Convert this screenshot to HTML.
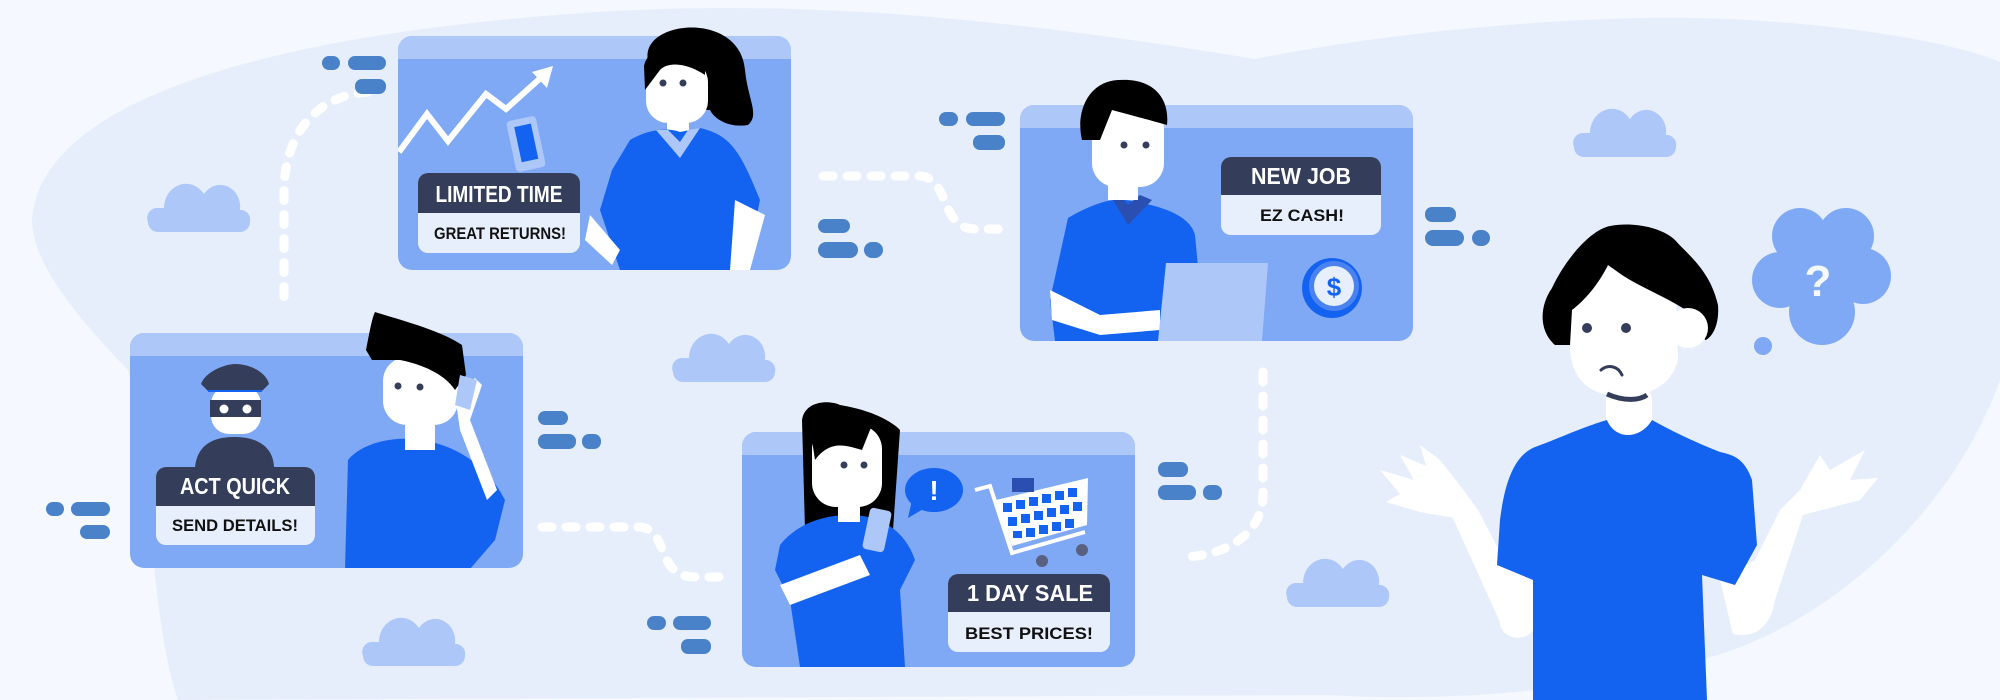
<!DOCTYPE html>
<html><head><meta charset="utf-8"><style>
html,body{margin:0;padding:0;background:#f5f8fe;}
svg{display:block}
text{font-family:"Liberation Sans",sans-serif;font-weight:bold}
</style></head><body>
<svg width="2000" height="700" viewBox="0 0 2000 700" xmlns="http://www.w3.org/2000/svg">
<defs>
<g id="cloud"><path d="M8,52 a10,10 0 0 1 10,-14 h6 a22,24 0 0 1 40,-14 a20,22 0 0 1 36,16 v0 h2 a10,10 0 0 1 8,12 v0 a10,10 0 0 1 -10,10 h-82 a10,10 0 0 1 -10,-10z" fill="#adc8f8"/></g>
</defs>
<rect width="2000" height="700" fill="#f5f8fe"/>
<path d="M32,219 C40,120 200,50 500,20 C700,0 900,0 1255,59 C1400,30 1550,20 1640,18 C1800,15 1950,40 2000,62 L2000,380 C1950,520 1820,630 1700,660 C1550,700 1400,700 1330,695 L178,700 C150,620 150,450 128,370 C70,310 32,260 32,219Z" fill="#e7eefb"/>
<use href="#cloud" transform="translate(140,170)"/>
<use href="#cloud" transform="translate(665,320)"/>
<use href="#cloud" transform="translate(355,604)"/>
<use href="#cloud" transform="translate(1566,95)"/>
<use href="#cloud" transform="translate(1279,545)"/>
<g fill="none" stroke="#fff" stroke-width="9" stroke-linecap="round" stroke-dasharray="10 14">
<path d="M368,92 C320,95 285,130 284,190 L284,306"/>
<path d="M823,176 L920,176 C950,178 940,229 975,229 L1000,229"/>
<path d="M542,527 L640,527 C670,530 655,577 695,577 L720,577"/>
<path d="M1263,372 L1263,495 C1263,530 1230,557 1180,557"/>
</g>
<g fill="#4a82c9">
<rect x="322" y="56" width="18" height="14" rx="7"/><rect x="348" y="56" width="38" height="14" rx="7"/><rect x="355" y="79" width="31" height="15" rx="7"/>
<rect x="818" y="219" width="32" height="14" rx="7"/><rect x="818" y="242" width="40" height="16" rx="8"/><rect x="864" y="242" width="19" height="16" rx="8"/>
<rect x="939" y="112" width="19" height="14" rx="7"/><rect x="966" y="112" width="39" height="14" rx="7"/><rect x="973" y="135" width="32" height="15" rx="7"/>
<rect x="538" y="411" width="30" height="14" rx="7"/><rect x="538" y="434" width="38" height="15" rx="7"/><rect x="582" y="434" width="19" height="15" rx="7"/>
<rect x="46" y="502" width="18" height="14" rx="7"/><rect x="71" y="502" width="39" height="14" rx="7"/><rect x="80" y="525" width="30" height="14" rx="7"/>
<rect x="647" y="616" width="19" height="14" rx="7"/><rect x="673" y="616" width="38" height="14" rx="7"/><rect x="681" y="639" width="30" height="15" rx="7"/>
<rect x="1425" y="207" width="31" height="15" rx="7"/><rect x="1425" y="230" width="39" height="16" rx="8"/><rect x="1472" y="230" width="18" height="16" rx="8"/>
<rect x="1158" y="462" width="30" height="15" rx="7"/><rect x="1158" y="485" width="38" height="15" rx="7"/><rect x="1203" y="485" width="19" height="15" rx="7"/>
</g>

<!-- PANEL 1 -->
<g>
<clipPath id="c1"><rect x="398" y="-20" width="393" height="290" rx="14"/></clipPath>
<rect x="398" y="36" width="393" height="234" rx="14" fill="#7fa9f5"/>
<path d="M398,59 V50 a14,14 0 0 1 14,-14 h365 a14,14 0 0 1 14,14 V59Z" fill="#adc8f8"/>
<g clip-path="url(#c1)">
<polyline points="399,152 427,114 448,141 486,94 506,109 545,74" fill="none" stroke="#fff" stroke-width="6"/>
<path d="M532,72 L553,66 L547,88Z" fill="#fff"/>
<path d="M648,60 C640,20 740,10 745,70 C748,100 760,115 748,125 C730,128 715,120 710,110 L648,110Z" fill="#000"/>
<rect x="646" y="60" width="62" height="63" rx="22" fill="#fff"/>
<path d="M644,66 C650,40 690,35 705,55 L705,75 C690,65 670,60 660,70 L645,90Z" fill="#000"/>
<circle cx="663" cy="83" r="3.5" fill="#343d5a"/><circle cx="683" cy="83" r="3.5" fill="#343d5a"/>
<rect x="667" y="118" width="22" height="18" fill="#fff"/>
<path d="M630,140 C650,128 670,128 680,132 L700,128 C730,135 740,150 760,200 L745,270 L620,270 L600,210 L612,170Z" fill="#1463f0"/>
<path d="M656,130 L680,158 L700,128 L688,130 L680,142 L668,130Z" fill="#adc8f8"/>
<path d="M590,215 L620,250 L612,265 L585,240Z" fill="#fff"/>
<rect x="511" y="118" width="30" height="52" rx="4" fill="#adc8f8" transform="rotate(-12 526 144)"/>
<rect x="518" y="125" width="17" height="36" fill="#1463f0" transform="rotate(-12 526 144)"/>
<path d="M735,200 L765,215 L750,270 L730,270Z" fill="#fff"/>
</g>
<rect x="418" y="173" width="162" height="80" rx="10" fill="#e8effc"/>
<path d="M418,213 V183 a10,10 0 0 1 10,-10 h142 a10,10 0 0 1 10,10 V213Z" fill="#343d5a"/>
<text x="499" y="202" font-size="23" fill="#fff" text-anchor="middle" textLength="127" lengthAdjust="spacingAndGlyphs">LIMITED TIME</text>
<text x="500" y="239" font-size="17" fill="#111" text-anchor="middle" textLength="132" lengthAdjust="spacingAndGlyphs">GREAT RETURNS!</text>
</g>

<!-- PANEL 2 -->
<g>
<clipPath id="c2"><rect x="130" y="200" width="393" height="368" rx="14"/></clipPath>
<rect x="130" y="333" width="393" height="235" rx="14" fill="#7fa9f5"/>
<path d="M130,356 V347 a14,14 0 0 1 14,-14 h365 a14,14 0 0 1 14,14 V356Z" fill="#adc8f8"/>
<g clip-path="url(#c2)">
<path d="M195,467 C198,440 220,437 235,437 C255,437 273,445 274,467Z" fill="#343d5a"/>
<rect x="211" y="386" width="50" height="48" rx="18" fill="#fff"/>
<rect x="210" y="400" width="51" height="17" fill="#343d5a"/>
<circle cx="224" cy="409" r="4.5" fill="#fff"/><circle cx="247" cy="409" r="4.5" fill="#fff"/>
<path d="M201,384 C205,372 225,364 235,364 C250,364 266,372 269,384 L262,391 L208,391Z" fill="#343d5a"/>
<rect x="208" y="390" width="54" height="2" fill="#1463f0"/>
<path d="M348,460 C360,445 390,435 420,440 C460,445 490,470 505,500 L495,540 L470,569 L345,569Z" fill="#1463f0"/>
<rect x="405" y="415" width="30" height="35" fill="#fff"/>
<rect x="383" y="357" width="75" height="68" rx="24" fill="#fff"/>
<path d="M366,350 C370,330 372,318 375,312 C400,320 440,330 462,345 L466,375 L455,390 C445,375 425,365 400,360 L372,360Z" fill="#000"/>
<circle cx="398" cy="386" r="3.5" fill="#343d5a"/><circle cx="420" cy="387" r="3.5" fill="#343d5a"/>
<path d="M455,395 L475,378 L482,385 L470,420 L497,490 L487,500 L460,430Z" fill="#fff"/>
<path d="M460,375 L477,380 L470,410 L455,405Z" fill="#adc8f8"/>
</g>
<rect x="156" y="467" width="159" height="78" rx="10" fill="#e8effc"/>
<path d="M156,506 V477 a10,10 0 0 1 10,-10 h139 a10,10 0 0 1 10,10 V506Z" fill="#343d5a"/>
<text x="235" y="494" font-size="23" fill="#fff" text-anchor="middle" textLength="110" lengthAdjust="spacingAndGlyphs">ACT QUICK</text>
<text x="235" y="531" font-size="17" fill="#111" text-anchor="middle" textLength="126" lengthAdjust="spacingAndGlyphs">SEND DETAILS!</text>
</g>

<!-- PANEL 3 -->
<g>
<clipPath id="c3"><rect x="1020" y="0" width="393" height="341" rx="14"/></clipPath>
<rect x="1020" y="105" width="393" height="236" rx="14" fill="#7fa9f5"/>
<path d="M1020,128 V119 a14,14 0 0 1 14,-14 h365 a14,14 0 0 1 14,14 V128Z" fill="#adc8f8"/>
<g clip-path="url(#c3)">
<path d="M1068,218 C1090,205 1110,198 1125,200 C1160,205 1190,215 1195,235 L1205,341 L1055,341 L1050,300Z" fill="#1463f0"/>
<path d="M1050,290 L1100,315 L1160,310 L1160,330 L1100,335 L1052,320Z" fill="#fff"/>
<path d="M1113,200 L1128,225 L1152,200 L1140,195 L1128,205 L1120,195Z" fill="#2b4fb0"/>
<rect x="1108" y="175" width="30" height="25" fill="#fff"/>
<rect x="1092" y="105" width="72" height="82" rx="24" fill="#fff"/>
<path d="M1082,140 C1075,110 1090,80 1120,80 C1150,78 1170,95 1167,125 C1150,120 1130,115 1112,110 L1100,140Z" fill="#000"/>
<circle cx="1124" cy="145" r="3.5" fill="#343d5a"/><circle cx="1146" cy="145" r="3.5" fill="#343d5a"/>
<path d="M1166,263 L1268,263 L1262,341 L1158,341Z" fill="#adc8f8"/>
<circle cx="1332" cy="288" r="30" fill="#1463f0"/>
<circle cx="1334" cy="286" r="25" fill="#4a82f0"/>
<circle cx="1334" cy="286" r="20" fill="#e8effc"/>
<text x="1334" y="296" font-size="26" fill="#1463f0" text-anchor="middle">$</text>
</g>
<rect x="1221" y="157" width="160" height="78" rx="10" fill="#e8effc"/>
<path d="M1221,195 V167 a10,10 0 0 1 10,-10 h140 a10,10 0 0 1 10,10 V195Z" fill="#343d5a"/>
<text x="1301" y="184" font-size="23" fill="#fff" text-anchor="middle" textLength="100" lengthAdjust="spacingAndGlyphs">NEW JOB</text>
<text x="1302" y="221" font-size="17" fill="#111" text-anchor="middle" textLength="84" lengthAdjust="spacingAndGlyphs">EZ CASH!</text>
</g>

<!-- PANEL 4 -->
<g>
<clipPath id="c4"><rect x="742" y="300" width="393" height="367" rx="14"/></clipPath>
<rect x="742" y="432" width="393" height="235" rx="14" fill="#7fa9f5"/>
<path d="M742,455 V446 a14,14 0 0 1 14,-14 h365 a14,14 0 0 1 14,14 V455Z" fill="#adc8f8"/>
<g clip-path="url(#c4)">
<path d="M802,420 C805,400 830,400 840,405 C870,410 890,420 900,430 L893,530 L805,530Z" fill="#000"/>
<path d="M780,545 C800,520 830,515 850,515 C880,515 905,530 915,560 L900,590 L905,667 L800,667 L790,600 L775,570Z" fill="#1463f0"/>
<rect x="838" y="500" width="22" height="22" fill="#fff"/>
<rect x="812" y="425" width="70" height="82" rx="24" fill="#fff"/>
<path d="M812,440 C820,415 850,410 872,425 L862,450 C845,445 830,440 815,460Z" fill="#000"/>
<circle cx="844" cy="465" r="3.5" fill="#343d5a"/><circle cx="864" cy="465" r="3.5" fill="#343d5a"/>
<path d="M780,585 L860,555 L870,575 L790,605Z" fill="#fff"/>
<rect x="866" y="509" width="22" height="42" rx="4" fill="#adc8f8" transform="rotate(12 877 530)"/>
<ellipse cx="934" cy="490" rx="29" ry="22" fill="#1463f0"/>
<path d="M912,500 L908,518 L925,508Z" fill="#1463f0"/>
<text x="934" y="500" font-size="28" fill="#fff" text-anchor="middle">!</text>
<path d="M975,490 L990,486 L1012,553 L1085,532" fill="none" stroke="#fff" stroke-width="4"/>
<path d="M996,500 L1088,478 L1087,525 L1012,546Z" fill="#fff"/>
<g fill="#1463f0">
<rect x="1003" y="503" width="9" height="9"/><rect x="1016" y="500" width="9" height="9"/><rect x="1029" y="497" width="9" height="9"/><rect x="1042" y="494" width="9" height="9"/><rect x="1055" y="491" width="9" height="9"/><rect x="1068" y="488" width="9" height="9"/>
<rect x="1008" y="517" width="9" height="9"/><rect x="1021" y="514" width="9" height="9"/><rect x="1034" y="511" width="9" height="9"/><rect x="1047" y="508" width="9" height="9"/><rect x="1060" y="505" width="9" height="9"/><rect x="1073" y="502" width="9" height="9"/>
<rect x="1013" y="531" width="9" height="7"/><rect x="1026" y="528" width="9" height="9"/><rect x="1039" y="525" width="9" height="9"/><rect x="1052" y="522" width="9" height="9"/><rect x="1065" y="519" width="9" height="9"/>
</g>
<rect x="1012" y="478" width="22" height="14" fill="#2b4fb0"/>
<circle cx="1042" cy="561" r="6" fill="#5a6080"/><circle cx="1082" cy="550" r="6" fill="#5a6080"/>
</g>
<rect x="948" y="574" width="162" height="78" rx="10" fill="#e8effc"/>
<path d="M948,612 V584 a10,10 0 0 1 10,-10 h142 a10,10 0 0 1 10,10 V612Z" fill="#343d5a"/>
<text x="1030" y="601" font-size="23" fill="#fff" text-anchor="middle" textLength="126" lengthAdjust="spacingAndGlyphs">1 DAY SALE</text>
<text x="1029" y="639" font-size="17" fill="#111" text-anchor="middle" textLength="128" lengthAdjust="spacingAndGlyphs">BEST PRICES!</text>
</g>

<g fill="#7fa9f5">
<circle cx="1800" cy="236" r="28"/><circle cx="1846" cy="236" r="28"/>
<circle cx="1780" cy="280" r="28"/><circle cx="1863" cy="276" r="28"/>
<circle cx="1822" cy="312" r="33"/><circle cx="1820" cy="270" r="38"/>
<circle cx="1763" cy="346" r="9"/>
</g>
<text x="1818" y="296" font-size="44" fill="#f5f8fe" text-anchor="middle" font-family="Liberation Sans">?</text>

<g>
<path d="M1497,560 L1500,625 C1505,642 1530,642 1536,625 L1540,580Z" fill="#fff"/>
<path d="M1500,622 L1536,622 L1478,510 L1452,516Z" fill="#fff"/>
<path d="M1455,518 L1478,510 L1462,488 L1440,460 L1420,445 L1426,466 L1400,455 L1414,480 L1380,470 L1400,494 L1386,502 L1420,512Z" fill="#fff"/>
<path d="M1720,580 L1733,634 C1760,640 1772,620 1775,600 L1803,515 L1860,500 L1878,478 L1850,480 L1865,450 L1830,470 L1820,455 L1800,490 L1780,510 L1755,560Z" fill="#fff"/>
<rect x="1606" y="385" width="46" height="52" rx="15" fill="#fff"/>
<path d="M1607,420 C1580,428 1555,440 1535,447 C1515,455 1505,480 1500,520 L1497,565 L1533,580 L1533,700 L1707,700 L1702,575 L1735,585 L1757,545 L1752,480 C1745,460 1735,455 1720,452 C1690,440 1670,430 1652,420 C1640,440 1615,440 1607,420Z" fill="#1463f0"/>
<path d="M1570,268 L1675,268 L1678,360 C1670,390 1640,400 1610,395 C1585,392 1572,375 1570,350Z" fill="#fff"/>
<path d="M1607,394 C1625,402 1640,400 1647,395" fill="none" stroke="#343d5a" stroke-width="5"/>
<path d="M1555,345 C1538,330 1540,305 1552,288 C1565,260 1590,230 1610,226 C1630,222 1660,226 1675,240 C1688,255 1710,270 1718,305 C1720,330 1708,340 1705,340 L1700,320 C1675,300 1645,290 1622,275 L1608,265 C1598,285 1585,300 1572,310 L1570,345Z" fill="#000"/>
<circle cx="1688" cy="328" r="20" fill="#fff"/>
<circle cx="1587" cy="328" r="5" fill="#343d5a"/><circle cx="1626" cy="328" r="5" fill="#343d5a"/>
<path d="M1601,370 C1608,364 1618,366 1622,375" fill="none" stroke="#343d5a" stroke-width="3" stroke-linecap="round"/>
</g>
</svg>
</body></html>
